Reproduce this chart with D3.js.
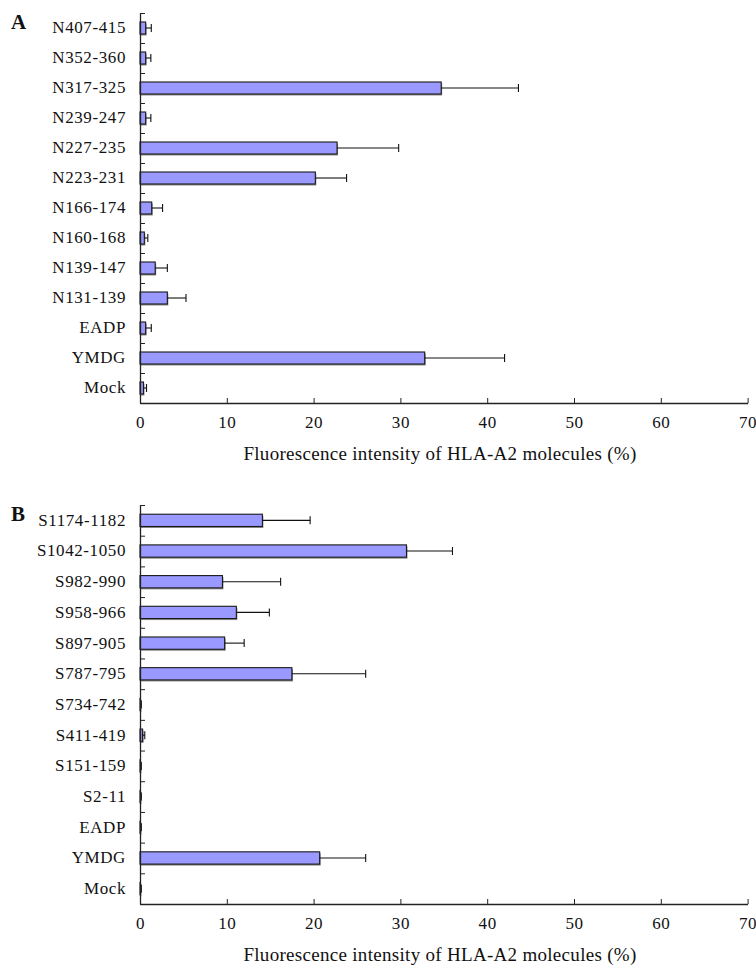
<!DOCTYPE html>
<html>
<head>
<meta charset="utf-8">
<script src="https://cdn.jsdelivr.net/npm/d3@7"></script>
<style>
body { margin: 0; background: #fff; }
svg text { font-family: "Liberation Serif", "DejaVu Serif", serif; fill: #111; }
</style>
</head>
<body>
<div id="content"></div>
<script>
// panel A: N peptides (top to bottom)
var catsA = ["N407-415", "N352-360", "N317-325", "N239-247", "N227-235", "N223-231",
             "N166-174", "N160-168", "N139-147", "N131-139", "EADP", "YMDG", "Mock"];
var meanA = [0.65, 0.65, 34.7, 0.65, 22.7, 20.2, 1.35, 0.5, 1.75, 3.15, 0.65, 32.8, 0.4];
var errA  = [0.65, 0.6, 8.9, 0.6, 7.1, 3.6, 1.25, 0.4, 1.4, 2.15, 0.65, 9.2, 0.35];

// panel B: S peptides
var catsB = ["S1174-1182", "S1042-1050", "S982-990", "S958-966", "S897-905", "S787-795",
             "S734-742", "S411-419", "S151-159", "S2-11", "EADP", "YMDG", "Mock"];
var meanB = [14.1, 30.7, 9.5, 11.1, 9.75, 17.5, 0.05, 0.3, 0.05, 0.05, 0.05, 20.7, 0.05];
var errB  = [5.5, 5.3, 6.7, 3.8, 2.25, 8.5, 0.1, 0.25, 0.1, 0.1, 0.1, 5.3, 0.1];

var xTicks = [0, 10, 20, 30, 40, 50, 60, 70];
var xTitle = "Fluorescence intensity of HLA-A2 molecules (%)";

var W = 756, H = 966;
var svg = d3.select('#content').append('svg')
    .attr('width', W).attr('height', H);

function draw_panel(letter, cats, means, errs, top, bottom){
    var left = 140, right = 747.6;
    var g = svg.append('g');

    var x = d3.scaleLinear().domain([0, 70]).range([left, right]);
    var y = d3.scaleBand().domain(cats).range([top, bottom]).paddingInner(0.6).paddingOuter(0.3);
    var yIdx = d3.scaleLinear().domain([0, cats.length]).range([top, bottom]);

    var rows = cats.map(function(c, i){
        return {cat: c, v: means[i], e: errs[i]};
    });

    // bars (shadow then bar)
    g.append('g').selectAll('rect')
        .data(rows).enter().append('rect')
        .attr('x', x(0))
        .attr('y', function(d){ return y(d.cat) + 1.5; })
        .attr('width', function(d){ return x(d.v) - x(0) + 1; })
        .attr('height', y.bandwidth())
        .attr('fill', '#888');
    g.append('g').selectAll('rect')
        .data(rows).enter().append('rect')
        .attr('x', x(0))
        .attr('y', function(d){ return y(d.cat); })
        .attr('width', function(d){ return x(d.v) - x(0); })
        .attr('height', y.bandwidth())
        .attr('fill', '#9999ff')
        .attr('stroke', '#1a1a1a')
        .attr('stroke-width', 1.1);

    // error whiskers
    var eg = g.append('g').attr('stroke', '#111').attr('stroke-width', 1.1);
    eg.selectAll('line.w')
        .data(rows).enter().append('line').attr('class', 'w')
        .attr('x1', function(d){ return x(d.v); })
        .attr('x2', function(d){ return x(d.v + d.e); })
        .attr('y1', function(d){ return y(d.cat) + y.bandwidth() / 2; })
        .attr('y2', function(d){ return y(d.cat) + y.bandwidth() / 2; });
    eg.selectAll('line.c')
        .data(rows).enter().append('line').attr('class', 'c')
        .attr('x1', function(d){ return x(d.v + d.e); })
        .attr('x2', function(d){ return x(d.v + d.e); })
        .attr('y1', function(d){ return y(d.cat) + y.bandwidth() / 2 - 4; })
        .attr('y2', function(d){ return y(d.cat) + y.bandwidth() / 2 + 4; });

    // y axis: boundary ticks pointing right
    var yAx = g.append('g')
        .attr('transform', 'translate(' + left + ',0)')
        .call(d3.axisRight(yIdx).ticks(cats.length).tickSizeInner(5).tickSizeOuter(0).tickFormat(''));
    yAx.selectAll('line').attr('stroke', '#222');
    yAx.select('.domain').attr('stroke', '#222').attr('stroke-width', 1.3);

    // category labels
    var yLab = g.append('g')
        .attr('transform', 'translate(' + (left - 14) + ',0)')
        .call(d3.axisLeft(y).tickSize(0).tickPadding(0));
    yLab.select('.domain').remove();
    yLab.selectAll('text')
        .attr('font-size', 17)
        .attr('letter-spacing', 0.6)
        .attr('font-family', '"Liberation Serif", serif')
        .attr('fill', '#111');

    // x axis
    var xAx = g.append('g')
        .attr('transform', 'translate(0,' + bottom + ')')
        .call(d3.axisBottom(x).tickValues(xTicks).tickSizeInner(-5).tickSizeOuter(0).tickPadding(13));
    xAx.selectAll('line').attr('stroke', '#222');
    xAx.select('.domain').attr('stroke', '#222').attr('stroke-width', 1.3);
    xAx.selectAll('text')
        .attr('font-size', 17)
        .attr('letter-spacing', 0.6)
        .attr('font-family', '"Liberation Serif", serif')
        .attr('fill', '#111');

    g.append('text')
        .attr('x', 440)
        .attr('y', bottom + 57)
        .attr('text-anchor', 'middle')
        .attr('font-size', 19)
        .attr('letter-spacing', 0.3)
        .text(xTitle);

    g.append('text')
        .attr('x', 11)
        .attr('y', top + 16)
        .attr('font-size', 21)
        .attr('font-weight', 'bold')
        .text(letter);
}

draw_panel('A', catsA, meanA, errA, 13, 403);
draw_panel('B', catsB, meanB, errB, 505, 904);
</script>
</body>
</html>
